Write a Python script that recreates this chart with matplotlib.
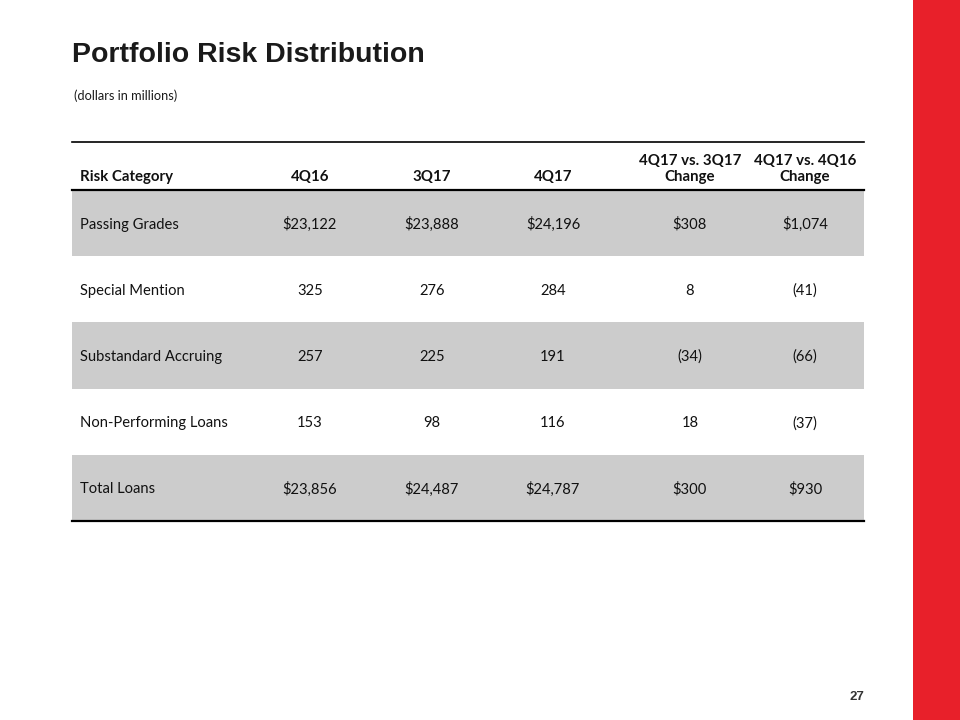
import matplotlib
matplotlib.use("Agg")
import matplotlib.pyplot as plt
from matplotlib.patches import Rectangle

# 数据
categories = ["Passing Grades", "Special Mention", "Substandard Accruing",
              "Non-Performing Loans", "Total Loans"]
q4_16 = ["$23,122", "325", "257", "153", "$23,856"]
q3_17 = ["$23,888", "276", "225", "98", "$24,487"]
q4_17 = ["$24,196", "284", "191", "116", "$24,787"]
chg_vs_3q17 = ["$308", "8", "(34)", "18", "$300"]
chg_vs_4q16 = ["$1,074", "(41)", "(66)", "(37)", "$930"]
col_headers = ["Risk Category", "4Q16", "3Q17", "4Q17",
               "4Q17 vs. 3Q17\nChange", "4Q17 vs. 4Q16\nChange"]
shaded = [True, False, True, False, True]

BODY_FONT = ["Lato", "DejaVu Sans"]
GRAY = "#CCCCCC"
RED = "#E8202A"

fig = plt.figure(figsize=(9.6, 7.2), dpi=100)
ax = fig.add_axes([0, 0, 1, 1])
ax.set_xlim(0, 960)
ax.set_ylim(720, 0)
ax.axis("off")

# 右侧红条
ax.add_patch(Rectangle((913, 0), 47, 720, color=RED, lw=0))

# 标题
ax.text(72, 52, "Portfolio Risk Distribution", fontsize=20.5, fontweight="bold",
        family=["Liberation Sans", "DejaVu Sans"], color="#1a1a1a",
        va="center_baseline")
ax.text(74, 95, "(dollars in millions)", fontsize=9.2, family=BODY_FONT,
        color="#1a1a1a", va="center_baseline")

# 表格
left, right = 72, 864
top, head_bot = 142, 190
row_h = 66.2
col_x = [80, 310, 432, 553, 690, 805]
cols = [categories, q4_16, q3_17, q4_17, chg_vs_3q17, chg_vs_4q16]

for i in range(len(categories)):
    y0 = head_bot + i * row_h
    if shaded[i]:
        ax.add_patch(Rectangle((left, y0), right - left, row_h, color=GRAY, lw=0))
    yc = y0 + row_h / 2
    for j, col in enumerate(cols):
        ha = "left" if j == 0 else "center"
        ax.text(col_x[j], yc, col[i], ha=ha, va="center_baseline", fontsize=10.6,
                family=BODY_FONT, color="#111111")

# 表头
for j, h in enumerate(col_headers):
    ha = "left" if j == 0 else "center"
    ax.text(col_x[j], 184, h, ha=ha, va="bottom", fontsize=10.8, fontweight="bold",
            family=BODY_FONT, color="#111111", linespacing=1.15)

bottom = head_bot + len(categories) * row_h
ax.plot([left, right], [top, top], color="black", lw=1.2)
ax.plot([left, right], [head_bot, head_bot], color="black", lw=1.6)
ax.plot([left, right], [bottom, bottom], color="black", lw=1.6)

# 页码
ax.text(857, 696, "27", ha="center", va="center_baseline", fontsize=9.5,
        fontweight="bold", family=["Liberation Sans", "DejaVu Sans"],
        color="#333333")

fig.savefig("out.png", dpi=100)
